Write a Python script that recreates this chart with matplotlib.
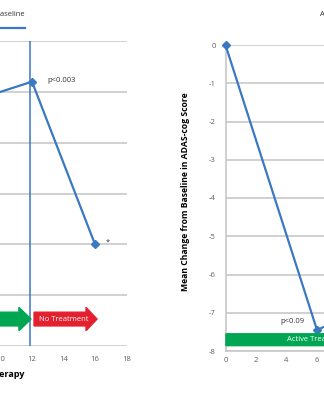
import matplotlib
matplotlib.use("Agg")
import matplotlib.pyplot as plt
from matplotlib.patches import Polygon
from matplotlib.lines import Line2D

plt.rcParams['font.family'] = ['Open Sans', 'DejaVu Sans']
plt.rcParams['axes.unicode_minus'] = False

# ---- data ----
left_weeks = [0, 6, 12, 16]
left_change = [0.0, 2.6, 3.2, 0.0]
left_xticks = [0, 2, 4, 6, 8, 10, 12, 14, 16, 18]
left_yticks = [-2, -1, 0, 1, 2, 3, 4]

right_weeks = [0, 6, 12]
right_change = [0.0, -7.45, -6.4]
right_xticks = [0, 2, 4, 6, 8, 10, 12, 14, 16, 18]
right_yticks = [0, -1, -2, -3, -4, -5, -6, -7, -8]

BLUE = '#3b78c2'
GRID = '#c4c4c4'
GREEN = '#00a651'
RED = '#e5202e'
TICK = '#606060'

W, H = 324, 400
fig = plt.figure(figsize=(W / 100, H / 100), dpi=100)

def px_axes(x0, x1, ytop, ybot):
    return fig.add_axes([x0 / W, (H - ybot) / H, (x1 - x0) / W, (ybot - ytop) / H])

def arrow(ax, x0, x1, head, yc, bh, hh, color):
    ax.add_patch(Polygon([(x0, yc - bh), (x1 - head, yc - bh), (x1 - head, yc - hh), (x1, yc),
                          (x1 - head, yc + hh), (x1 - head, yc + bh), (x0, yc + bh)],
                         closed=True, color=color, zorder=4, clip_on=False))

# ---------------- left chart ----------------
ax = px_axes(-157, 126.5, 41, 346)
ax.set_xlim(0, 18)
ax.set_ylim(-2, 4)
ax.set_xticks(left_xticks)
ax.set_yticks(left_yticks)
ax.yaxis.grid(True, color=GRID, lw=1.1)
ax.set_axisbelow(True)
for s in ax.spines.values():
    s.set_visible(False)
ax.tick_params(length=0, labelsize=5.5, colors=TICK, pad=7)
ax.tick_params(axis='y', labelleft=False)
ax.axvline(11.85, color=BLUE, lw=1.1, zorder=2)
ax.plot(left_weeks, left_change, color=BLUE, lw=1.6, marker='D', ms=4, zorder=3)
ax.text(13.0, 3.23, 'p<0.003', fontsize=5.5, color='#333333', va='center', ha='left')
ax.text(16.7, 0.05, '*', fontsize=5.5, color='#333333', va='center', ha='left')
ax.set_xlabel('Weeks of Therapy', fontsize=6.5, fontweight='bold', labelpad=5)

yc, bh, hh = -1.47, 0.135, 0.23
arrow(ax, 0, 11.94, 0.77, yc, bh, hh, GREEN)
arrow(ax, 12.13, 16.13, 0.7, yc, bh, hh, RED)
ax.text(14.0, yc, 'No Treatment', color='white', fontsize=5.5, ha='center', va='center', zorder=5)

# ---------------- right chart ----------------
x0r, pxu = 225.5, 15.25
ax2 = px_axes(x0r, x0r + 18 * pxu, 45, 351)
ax2.set_xlim(0, 18)
ax2.set_ylim(-8, 0)
ax2.set_xticks(right_xticks)
ax2.set_yticks(right_yticks)
ax2.yaxis.grid(True, color=GRID, lw=1.1)
ax2.set_axisbelow(True)
for k in ['top', 'right']:
    ax2.spines[k].set_visible(False)
for k in ['left', 'bottom']:
    ax2.spines[k].set_color(GRID)
    ax2.spines[k].set_linewidth(1.1)
ax2.tick_params(length=0, labelsize=5.5, colors=TICK)
ax2.tick_params(axis='y', pad=7)
ax2.tick_params(axis='x', pad=4)
ax2.axvline(11.95, color=BLUE, lw=1.1, zorder=2)
ax2.plot(right_weeks, right_change, color=BLUE, lw=1.6, marker='D', ms=4, zorder=3, clip_on=False)
ax2.text(5.2, -7.24, 'p<0.09', fontsize=5.5, color='#333333', va='center', ha='right')
yc2, bh2, hh2 = -7.705, 0.155, 0.25
arrow(ax2, 0.03, 11.9, 0.75, yc2, bh2, hh2, GREEN)
arrow(ax2, 12.1, 16.1, 0.7, yc2, bh2, hh2, RED)
ax2.text(6.0, yc2, 'Active Treatment', color='white', fontsize=5.5, ha='center', va='center', zorder=5)
ax2.text(14.0, yc2, 'No Treatment', color='white', fontsize=5.5, ha='center', va='center', zorder=5)
ax2.set_ylabel('Mean Change from Baseline in ADAS-cog Score', fontsize=6.2, fontweight='bold')
ax2.yaxis.set_label_coords(-0.13, 0.52)

# ---------------- legends / headers ----------------
fig.text(25 / W, 1 - 15 / H, 'Mean Change from Baseline', fontsize=5.5, color='#333333',
         ha='right', va='center')
fig.add_artist(Line2D([0, 25 / W], [1 - 28 / H, 1 - 28 / H], color=BLUE, lw=1.6,
                      transform=fig.transFigure))
fig.text(320 / W, 1 - 15 / H, 'ADAS-cog Change from Baseline', fontsize=5.5, color='#333333',
         ha='left', va='center')

fig.savefig('out.png', dpi=100)
